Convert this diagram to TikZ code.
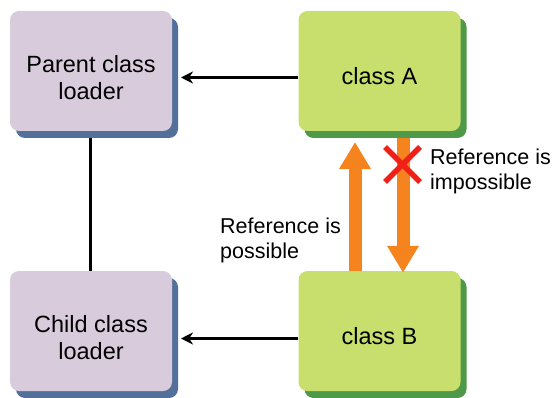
\documentclass[tikz,border=0pt]{standalone}
\usepackage{fontspec}
\setmainfont{Liberation Sans}
\usetikzlibrary{arrows.meta,shadows}
\definecolor{lav}{HTML}{D8CCDC}
\definecolor{lavsh}{HTML}{53709A}
\definecolor{grn}{HTML}{C8DF6E}
\definecolor{grnsh}{HTML}{4E9A48}
\definecolor{org}{HTML}{F5841F}
\definecolor{redx}{HTML}{F02018}
\tikzset{
  box/.style={rectangle, rounded corners=9pt, minimum width=162pt, minimum height=120pt,
    inner sep=0pt, align=center, font=\fontsize{23.5}{27}\selectfont, text depth=0pt},
  loader/.style={box, fill=lav, general shadow={fill=lavsh, shadow xshift=6pt, shadow yshift=-7pt}},
  cls/.style={box, fill=grn, general shadow={fill=grnsh, shadow xshift=6pt, shadow yshift=-7pt}},
  conn/.style={draw=black, line width=3pt, -{Stealth[length=12pt,width=12pt]}},
  big/.style={draw=org, line width=13pt, -{Triangle[length=27pt,width=30pt]}},
  lbl/.style={font=\fontsize{21.5}{25}\selectfont, align=left, anchor=west, inner sep=0pt},
}
\begin{document}
\begin{tikzpicture}[x=1pt,y=-1pt]
\useasboundingbox (0,0) rectangle (556,398);
\node[loader] (parent) at (91,71) {\raisebox{3pt}{\parbox{160pt}{\centering Parent class\\loader}}};
\node[cls] (A) at (379.5,71) {\raisebox{-9pt}{class A}};
\node[loader] (child) at (91,331) {\raisebox{3pt}{\parbox{160pt}{\centering Child class\\loader}}};
\node[cls] (B) at (379.5,331) {\raisebox{-9pt}{class B}};
\coordinate (pe) at (181,77.5);
\coordinate (ce) at (181,338.5);
\draw[conn] (A.west |- pe) -- (pe);
\draw[conn] (B.west |- ce) -- (ce);
\coordinate (pb) at (90,138);
\draw[line width=3pt] (pb) -- (child.north -| pb);
\coordinate (up) at (355,142);
\coordinate (dn) at (403,138);
\draw[big] (B.north -| up) -- (up);
\draw[big] (dn) -- ([yshift=-2pt]B.north -| dn);
\draw[redx, line width=5.5pt] (385,147) coordinate (x1) -- (420,182) coordinate (x2);
\draw[redx, line width=5.5pt] (385,182) coordinate (x3) -- (420,147) coordinate (x4);
\node[lbl] (imp) at (430,171) {Reference is\\impossible};
\node[lbl] (pos) at (220,240) {Reference is\\possible};
\end{tikzpicture}
\end{document}
